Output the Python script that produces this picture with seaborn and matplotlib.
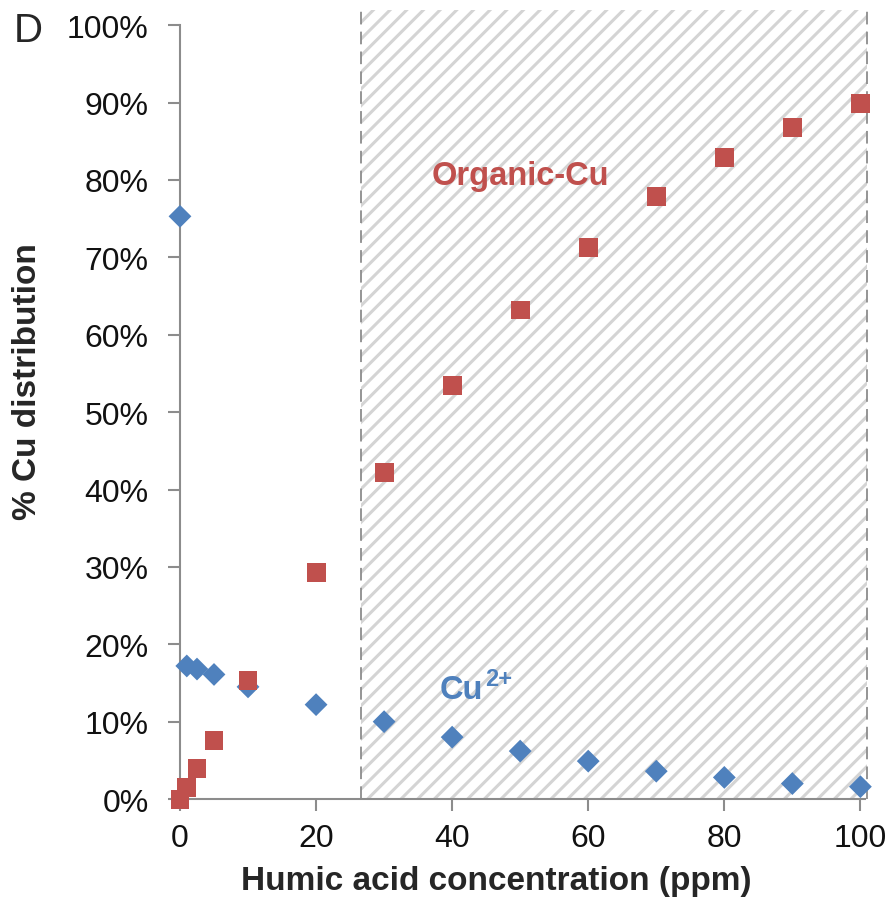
import matplotlib
matplotlib.use("Agg")
import matplotlib.pyplot as plt
from matplotlib.patches import Rectangle
import seaborn as sns
import pandas as pd

# Humic acid concentration (ppm)
humic_ppm = [0, 1, 2.5, 5, 10, 20, 30, 40, 50, 60, 70, 80, 90, 100]
# Fraction of copper present as free Cu2+
free_cu = [0.753, 0.172, 0.168, 0.161, 0.145, 0.122, 0.100, 0.080, 0.062, 0.049, 0.036, 0.028, 0.020, 0.016]
# Fraction of copper bound to organic matter
organic_cu = [0.000, 0.015, 0.039, 0.076, 0.153, 0.293, 0.422, 0.534, 0.632, 0.713, 0.779, 0.829, 0.868, 0.899]

y_ticks = [0, 0.1, 0.2, 0.3, 0.4, 0.5, 0.6, 0.7, 0.8, 0.9, 1.0]
y_tick_labels = ["0%", "10%", "20%", "30%", "40%", "50%", "60%", "70%", "80%", "90%", "100%"]
x_ticks = [0, 20, 40, 60, 80, 100]

shade_start, shade_end = 26.6, 100.9

blue = "#4F81BD"
red = "#C0504D"
axis_grey = "#8C8C8C"

sns.set_style("white")
plt.rcParams["font.family"] = ["Liberation Sans", "DejaVu Sans"]
plt.rcParams["hatch.linewidth"] = 2.2

fig = plt.figure(figsize=(8.91, 9.03), dpi=100)
ax = fig.add_axes([0.202, 0.114, 0.769, 0.857])

# shaded high-concentration region
shade = Rectangle((shade_start, 0), shade_end - shade_start, 1.02,
                  facecolor="white", edgecolor="#D4D4D4", hatch="//",
                  linewidth=0, clip_on=False, zorder=0)
ax.add_patch(shade)
for xv in (shade_start, shade_end):
    ax.plot([xv, xv], [0, 1.02], color=axis_grey, lw=1.3,
            dashes=(7, 4), clip_on=False, zorder=1)

df = pd.DataFrame({"ppm": humic_ppm, "free": free_cu, "organic": organic_cu})
sns.scatterplot(data=df, x="ppm", y="free", marker="D", s=135,
                color=blue, edgecolor="none", ax=ax, zorder=3, clip_on=False)
sns.scatterplot(data=df, x="ppm", y="organic", marker="s", s=185,
                color=red, edgecolor="none", ax=ax, zorder=4, clip_on=False)

ax.set_xlim(0, 100.7)
ax.set_ylim(0, 1.0)
ax.set_xticks(x_ticks)
ax.set_yticks(y_ticks)
ax.set_yticklabels(y_tick_labels)

for side in ("top", "right"):
    ax.spines[side].set_visible(False)
for side in ("left", "bottom"):
    ax.spines[side].set_color(axis_grey)
    ax.spines[side].set_linewidth(1.5)
ax.tick_params(axis="both", which="major", direction="out", length=8.5,
               width=1.5, color=axis_grey, labelsize=23, labelcolor="#111111")
ax.tick_params(axis="y", pad=14)
ax.tick_params(axis="x", pad=9)
ax.tick_params(left=True, bottom=True)

ax.set_xlabel("Humic acid concentration (ppm)", fontsize=24, fontweight="bold")
ax.set_ylabel("% Cu distribution", fontsize=24, fontweight="bold")

ax.text(50, 0.806, "Organic-Cu", color=red, fontsize=23.5, fontweight="bold",
        ha="center", va="center")
cu = ax.text(38.2, 0.142, "Cu", color=blue, fontsize=23.5, fontweight="bold",
             ha="left", va="center")
fig.canvas.draw()
bb = cu.get_window_extent().transformed(ax.transData.inverted())
ax.text(bb.x1 + 0.3, 0.142 + 0.014, "2+", color=blue, fontsize=17,
        fontweight="bold", ha="left", va="center")

fig.text(0.015, 0.966, "D", fontsize=29, ha="left", va="center")

# place the axis titles in figure pixels
fig.canvas.draw()
inv = ax.transAxes.inverted()
xl = inv.transform((496, 903 - 882))
yl = inv.transform((28, 903 - 382))
ax.xaxis.set_label_coords(xl[0], xl[1])
ax.yaxis.set_label_coords(yl[0], yl[1])
ax.xaxis.label.set_va("center")
ax.yaxis.label.set_va("center")

fig.savefig("out.png", dpi=100)
